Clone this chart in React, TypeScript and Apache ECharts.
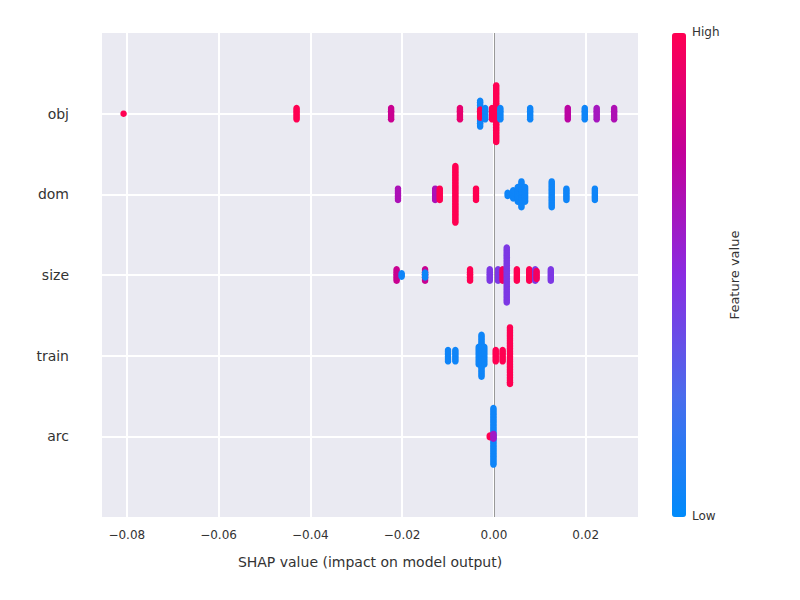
import { useEffect, useRef } from 'react'
import * as echarts from 'echarts'

// feature rows, top to bottom
const features = ['obj', 'dom', 'size', 'train', 'arc']
// stacks per row: [shap value, point count, feature value 0..1]
const objStacks = [
  [-0.0807, 1, 1], [-0.043, 8, 1], [-0.0224, 8, 0.78], [-0.0074, 8, 0.9],
  [-0.003, 17, 0.05], [-0.003, 6, 1], [-0.0019, 8, 0.05], [-0.0004, 8, 1],
  [0.0005, 36, 1], [0.0014, 8, 0.05], [0.0079, 8, 0.05], [0.0161, 8, 0.72],
  [0.0198, 8, 0.05], [0.0224, 8, 0.62], [0.0262, 8, 0.66],
]
const domStacks = [
  [-0.0209, 8, 0.65], [-0.0128, 8, 0.65], [-0.0118, 8, 1], [-0.0084, 36, 1],
  [-0.0039, 8, 1], [0.003, 3, 0.05], [0.0042, 6, 0.05], [0.0052, 10, 0.05],
  [0.006, 17, 0.05], [0.0068, 10, 0.05], [0.0126, 17, 0.05], [0.0158, 8, 0.05],
  [0.022, 8, 0.05],
]
const sizeStacks = [
  [-0.0212, 8, 0.78], [-0.0201, 3, 0.05], [-0.015, 8, 0.78], [-0.015, 4, 0.05],
  [-0.0052, 8, 1], [-0.0009, 8, 0.45], [0.0009, 8, 0.45], [0.0019, 8, 0.95],
  [0.0028, 35, 0.45], [0.005, 8, 1], [0.0077, 8, 1], [0.009, 8, 0.45],
  [0.0093, 6, 0.95], [0.0124, 8, 0.45],
]
const trainStacks = [
  [-0.01, 8, 0.05], [-0.0084, 8, 0.05], [-0.0033, 12, 0.05], [-0.0027, 27, 0.05],
  [-0.0021, 12, 0.05], [0.0004, 8, 1], [0.0019, 8, 1], [0.0035, 36, 1],
]
const arcStacks = [
  [-0.0001, 36, 0.05], [-0.0009, 2, 1], [-0.0001, 4, 0.6],
]
const xTicks = [-0.08, -0.06, -0.04, -0.02, 0, 0.02]

const rows = [objStacks, domStacks, sizeStacks, trainStacks, arcStacks]

export default function App() {
  const ref = useRef<HTMLDivElement>(null)

  useEffect(() => {
    if (!ref.current) return
    const chart = echarts.init(ref.current, null, { renderer: 'svg' })

    const step = 0.02 // y units between stacked dots
    const points: number[][] = []
    rows.forEach((stacks, r) => {
      const yc = features.length - 1 - r
      for (const [x, n, c] of stacks) {
        for (let i = 0; i < n; i++) points.push([x, yc + (i - (n - 1) / 2) * step, c])
      }
    })

    const fmt = (v: number) => (v < 0 ? '\u2212' : '') + Math.abs(v).toFixed(2)

    chart.setOption({
      animation: false,
      textStyle: { fontFamily: 'DejaVu Sans' },
      grid: { left: 102, right: 162, top: 33, bottom: 83, backgroundColor: '#eaeaf2', show: true, borderWidth: 0 },
      xAxis: {
        type: 'value', min: -0.0854, max: 0.0314,
        name: 'SHAP value (impact on model output)', nameLocation: 'middle', nameGap: 38,
        nameTextStyle: { fontSize: 14, color: '#333' },
        axisLine: { show: false }, axisTick: { show: false }, splitLine: { show: false },
        axisLabel: { customValues: xTicks, formatter: fmt, fontSize: 12, color: '#333', margin: 12 },
      },
      yAxis: {
        type: 'value', min: -1, max: 5,
        axisLine: { show: false }, axisTick: { show: false }, splitLine: { show: false },
        axisLabel: {
          customValues: [0, 1, 2, 3, 4],
          formatter: (v: number) => features[features.length - 1 - v],
          fontSize: 14, color: '#333', margin: 33,
        },
      },
      visualMap: {
        type: 'continuous', seriesIndex: 1, dimension: 2, min: 0, max: 1,
        left: 672, top: 33, itemWidth: 14, itemHeight: 484, padding: 0,
        calculable: false, text: ['', ''], showLabel: false,
        inRange: { color: ['#008bfb', '#4a6cec', '#8a2be2', '#c2009a', '#ff0052'] },
      },
      graphic: [
        { type: 'text', left: 692, top: 26, style: { text: 'High', fontSize: 12, fill: '#333', fontFamily: 'DejaVu Sans' } },
        { type: 'text', left: 692, top: 510, style: { text: 'Low', fontSize: 12, fill: '#333', fontFamily: 'DejaVu Sans' } },
        {
          type: 'text', x: 734, y: 275, rotation: Math.PI / 2,
          style: { text: 'Feature value', fontSize: 13, fill: '#333', align: 'center', verticalAlign: 'middle', fontFamily: 'DejaVu Sans' },
        },
      ],
      series: [
        {
          type: 'scatter', data: [], z: 1, silent: true,
          markLine: {
            symbol: 'none', silent: true, label: { show: false }, animation: false,
            data: [
              ...xTicks.map(v => ({ xAxis: v, lineStyle: { color: '#fff', width: 2, type: 'solid' } })),
              ...[0, 1, 2, 3, 4].map(v => ({ yAxis: v, lineStyle: { color: '#fff', width: 2, type: 'solid' } })),
              { xAxis: 0, lineStyle: { color: '#999', width: 1, type: 'solid' } },
            ],
          },
        },
        {
          type: 'scatter', z: 10, symbolSize: 6.5, data: points,
          itemStyle: { opacity: 1 },
        },
      ],
    })

    return () => chart.dispose()
  }, [])

  return <div ref={ref} style={{ width: 800, height: 600, margin: -8 }} />
}
